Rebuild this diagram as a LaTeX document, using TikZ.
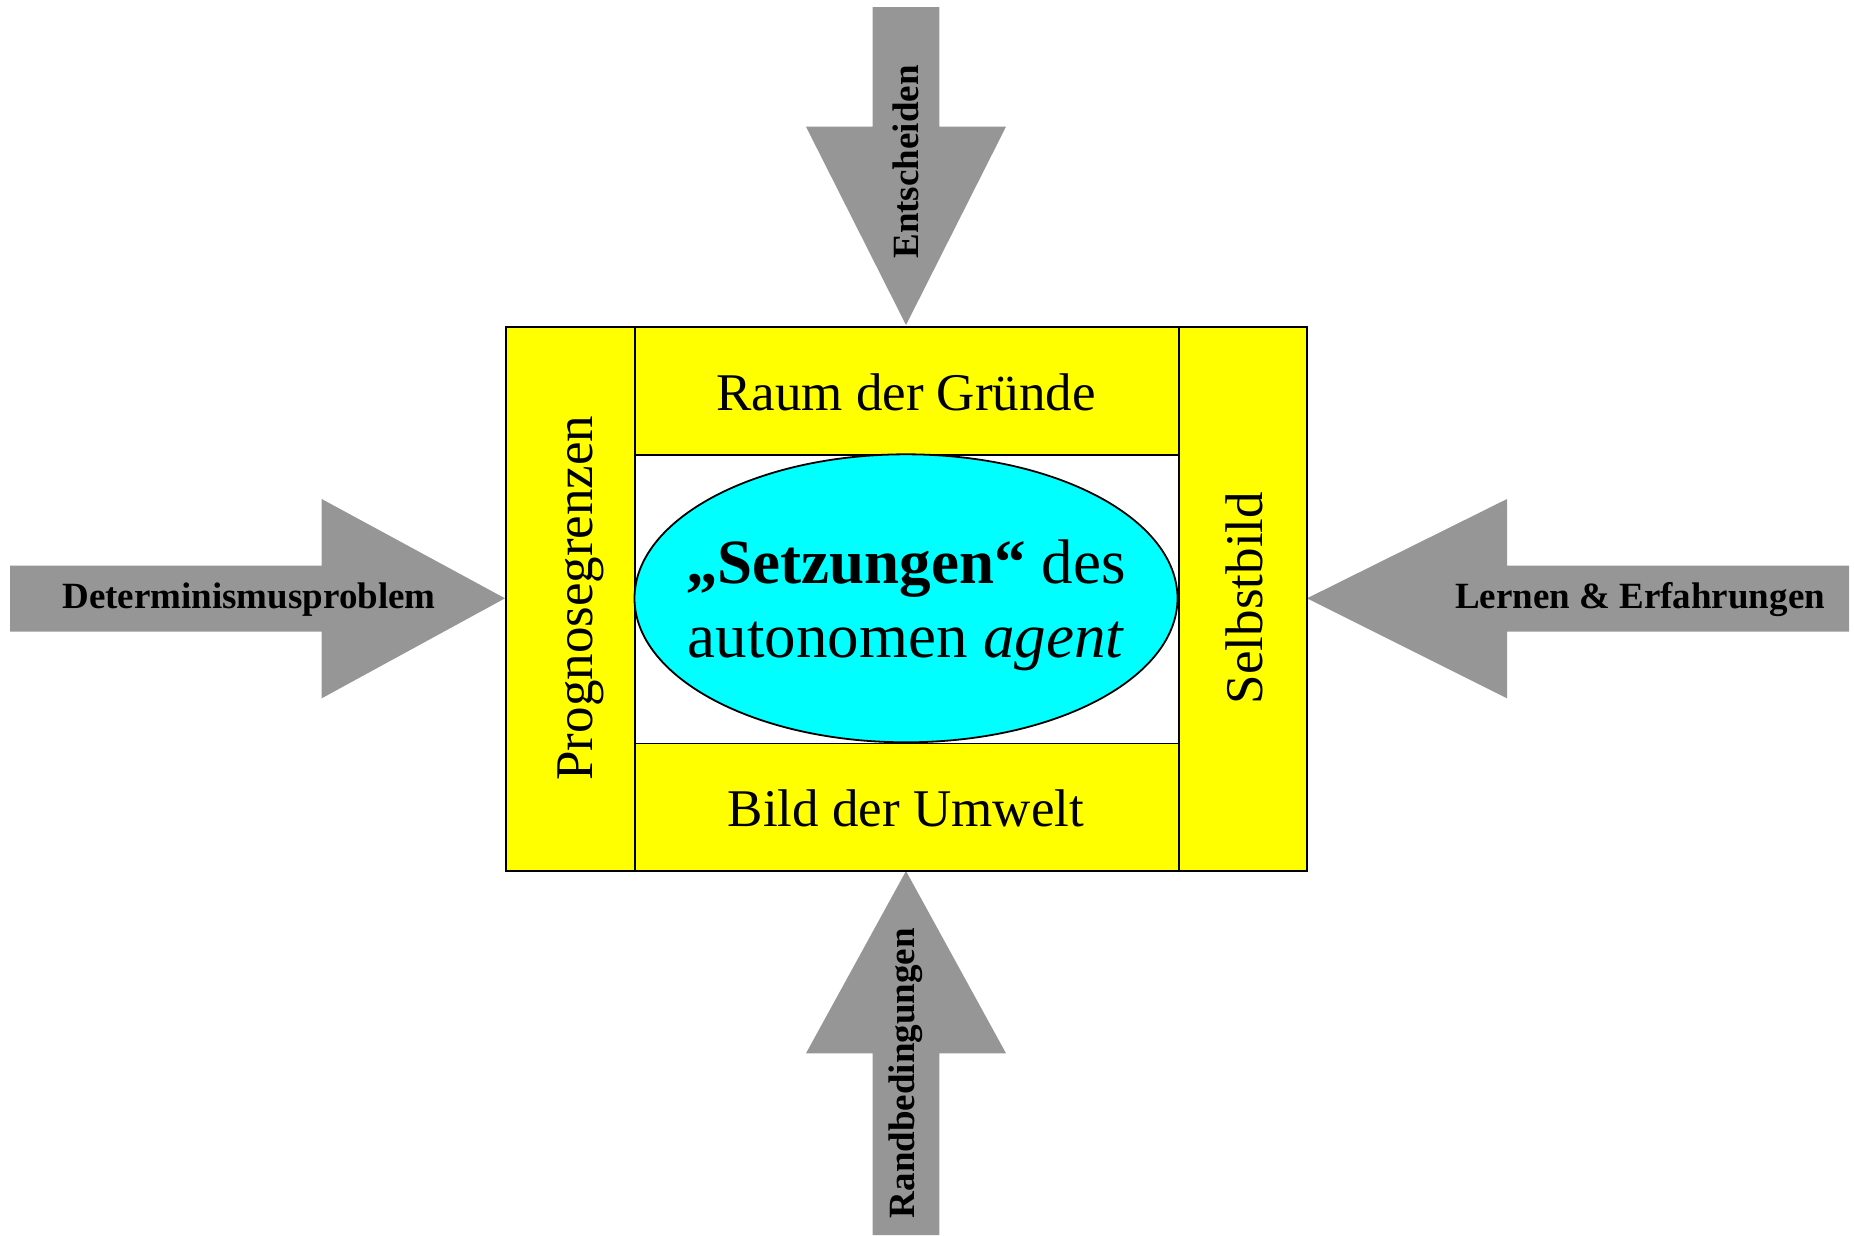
\documentclass[tikz,border=0pt]{standalone}
\usepackage{fontspec}
\setmainfont{Liberation Serif}
\usetikzlibrary{shapes.geometric}
\definecolor{arrowgray}{RGB}{150,150,150}
\definecolor{panelyellow}{RGB}{255,255,0}
\definecolor{coreblue}{RGB}{0,255,255}
\begin{document}
\begin{tikzpicture}[x=1pt,y=-1pt,
  panel/.style={draw=black,line width=1.8pt,fill=panelyellow,inner sep=0pt},
  paneltext/.style={inner sep=0pt,font=\fontsize{53pt}{62pt}\selectfont},
  coretext/.style={inner sep=0pt,anchor=base,font=\fontsize{63pt}{74pt}\selectfont},
  bigarrow/.style={fill=arrowgray},
  arrowlabel/.style={inner sep=0pt,font=\fontsize{37pt}{44pt}\selectfont\bfseries}]
\useasboundingbox (0,0) rectangle (1854,1235);

% incoming arrows
\fill[bigarrow] (872.7,7) -- (939.3,7) -- (939.3,126.7) -- (1006,126.7) -- (906,325)
  -- (806,126.7) -- (872.7,126.7) -- cycle;
\fill[bigarrow] (872.7,1235) -- (872.7,1053.3) -- (806,1053.3) -- (906,871)
  -- (1006,1053.3) -- (939.3,1053.3) -- (939.3,1235) -- cycle;
\fill[bigarrow] (10,565.7) -- (321.7,565.7) -- (321.7,499) -- (505,598.3)
  -- (321.7,698.3) -- (321.7,631.7) -- (10,631.7) -- cycle;
\fill[bigarrow] (1849,565.7) -- (1507,565.7) -- (1507,499) -- (1307,598.3)
  -- (1507,698.3) -- (1507,631.7) -- (1849,631.7) -- cycle;

% frame of four panels
\node[panel,minimum width=129pt,minimum height=544pt,anchor=north west] (left) at (505,326) {};
\node[panel,minimum width=544pt,minimum height=128pt,anchor=north west] (top) at (634,326) {};
\node[panel,minimum width=544pt,minimum height=127.5pt,anchor=north west] (bottom) at (634,742.5) {};
\node[panel,minimum width=128pt,minimum height=544pt,anchor=north west] (right) at (1178,326) {};

\node[paneltext,rotate=90] (lefttext) at (581,598) {Prognosegrenzen};
\node[paneltext] (toptext) at (906,392) {Raum der Gründe};
\node[paneltext] (bottomtext) at (906,808) {Bild der Umwelt};
\node[paneltext,rotate=90] (righttext) at (1244,598) {Selbstbild};

% central ellipse
\node[ellipse,draw=black,line width=1.8pt,fill=coreblue,minimum width=543pt,
  minimum height=288pt,inner sep=0pt] (core) at (906,598.3) {};
\node[coretext] (coreA) at (906,583) {\textbf{„Setzungen“} des};
\node[coretext] (coreB) at (906,657) {autonomen \textit{agent}};

% arrow labels
\node[arrowlabel,rotate=90] (la) at (906,162) {Entscheiden};
\node[arrowlabel,rotate=90] (lb) at (906,1073) {Randbedingungen};
\node[arrowlabel] (lc) at (249,600) {Determinismusproblem};
\node[arrowlabel] (ld) at (1640,600) {Lernen \& Erfahrungen};
\end{tikzpicture}
\end{document}
